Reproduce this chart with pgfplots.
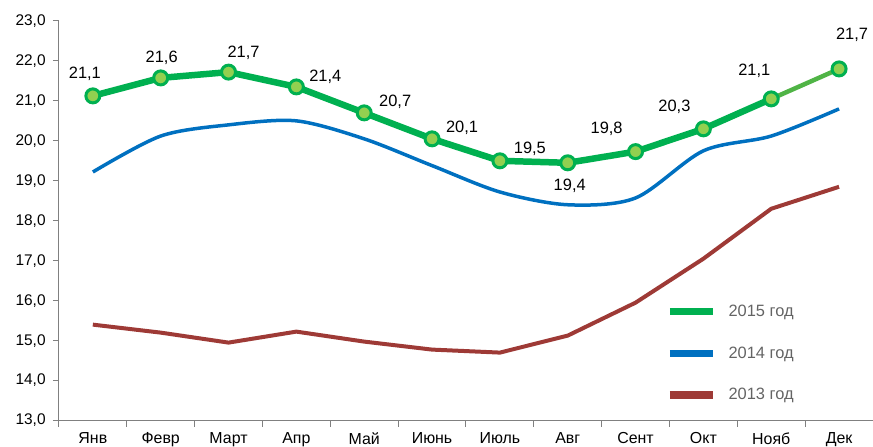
\documentclass[border=0pt]{standalone}
\usepackage{fontspec}
\setmainfont{Liberation Sans}
\usepackage{pgfplots}
\usepackage{pgfplotstable}
\pgfplotsset{compat=1.18}
\definecolor{g15}{RGB}{0,176,80}
\definecolor{g15l}{RGB}{146,208,80}
\definecolor{g15d}{RGB}{80,180,70}
\definecolor{b14}{RGB}{0,112,192}
\definecolor{r13}{RGB}{158,58,54}
\definecolor{axg}{RGB}{128,128,128}
\definecolor{legt}{RGB}{100,100,100}

\pgfplotstableread{
x y label dx dy
0 21.125 {21,1} -8 22
1 21.575 {21,6} 1 20
2 21.72 {21,7} 15 19
3 21.35 {21,4} 29 10
4 20.7 {20,7} 31 11
5 20.05 {20,1} 30 11
6 19.5 {19,5} 30 12
7 19.45 {19,4} 2 -23
8 19.73 {19,8} -29 23
9 20.3 {20,3} -29 22
10 21.05 {21,1} -17 28
11 21.8 {21,7} 13 34
}\dataA

\pgfplotstableread{
x y
0 19.22
1 20.12
2 20.4
3 20.5
4 20.05
5 19.38
6 18.72
7 18.4
8 18.57
9 19.75
10 20.12
11 20.8
}\dataB

\pgfplotstableread{
x y
0 15.4
1 15.2
2 14.95
3 15.225
4 14.975
5 14.775
6 14.7
7 15.125
8 15.95
9 17.05
10 18.3
11 18.85
}\dataC

\begin{document}
\fontsize{15.5}{18}\selectfont
\begin{tikzpicture}
\begin{axis}[
  scale only axis,
  width=815bp, height=400bp,
  xmin=-0.5, xmax=11.5,
  ymin=13, ymax=23,
  ytick={13,14,...,23},
  xtick={0,...,11},
  xticklabels={Янв,Февр,Март,Апр,Май,Июнь,Июль,Авг,Сент,Окт,Нояб,Дек},
  minor xtick={-0.5,0.5,...,11.5},
  major x tick style={draw=none},
  minor tick length=6bp,
  major tick length=6bp,
  tick align=outside,
  axis x line*=bottom,
  axis y line*=left,
  axis line style={axg, line width=1bp, -},
  tick style={axg, line width=1bp},
  yticklabel style={/pgf/number format/fixed, /pgf/number format/fixed zerofill, /pgf/number format/precision=1, /pgf/number format/use comma, /pgf/number format/assume math mode=true},
  yticklabel style={font=\fontsize{15.5}{18}\selectfont, xshift=-2bp},
  xticklabel style={font=\fontsize{16}{18}\selectfont, yshift=-1bp},
  clip=false,
  legend style={at={(rel axis cs:0.742,0.30)}, anchor=north west, draw=none, fill=none,
    font=\fontsize{16.5}{19}\selectfont\color{legt}, row sep=24bp,
    /tikz/every odd column/.append style={column sep=10bp}},
  legend cell align=left,
  legend image code/.code={\draw[#1, line width=7.5bp] (0cm,0cm) -- (43bp,0cm);},
]
% 2015 main line
\addplot[g15, line width=6.5bp, forget plot] table[x=x, y=y, restrict x to domain=0:10] {\dataA};
\addplot[g15d, line width=4.5bp, forget plot] table[x=x, y=y, restrict x to domain=10:11] {\dataA};
\addplot[only marks, mark=*, mark size=7bp, mark options={draw=g15, fill=g15l, line width=3bp}, forget plot,
  point meta=explicit symbolic,
  visualization depends on={\thisrow{dx} \as \ddx},
  visualization depends on={\thisrow{dy} \as \ddy},
  nodes near coords,
  every node near coord/.append style={anchor=center, xshift=\ddx bp, yshift=\ddy bp, font=\fontsize{16.5}{19}\selectfont, text=black}
] table[x=x, y=y, meta=label] {\dataA};
\addplot[b14, line width=3.5bp, smooth, forget plot] table[x=x, y=y] {\dataB};
\addplot[r13, line width=4bp, forget plot] table[x=x, y=y] {\dataC};
\addlegendimage{g15}
\addlegendentry{2015 год}
\addlegendimage{b14}
\addlegendentry{2014 год}
\addlegendimage{r13}
\addlegendentry{2013 год}
\coordinate (tl) at (rel axis cs:0,1);
\coordinate (br) at (rel axis cs:1,0);
\end{axis}
\pgfresetboundingbox
\path[use as bounding box] ([shift={(-59bp,21bp)}]tl) rectangle ([shift={(0bp,-26bp)}]br);
\end{tikzpicture}
\end{document}
